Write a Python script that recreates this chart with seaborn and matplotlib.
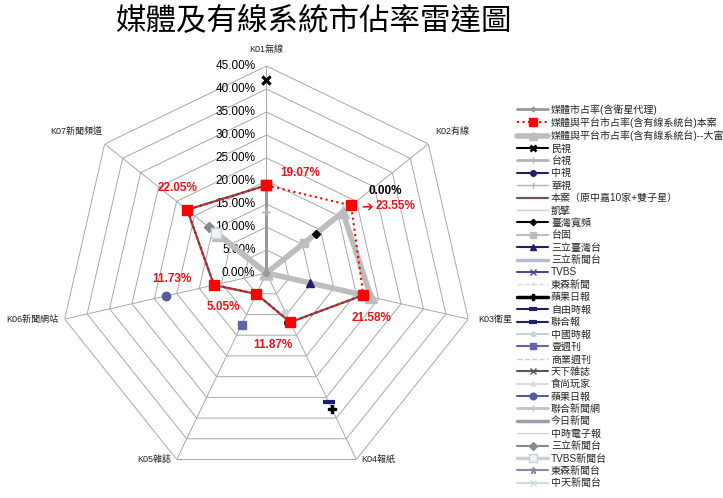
import numpy as np
import matplotlib
matplotlib.use('Agg')
import matplotlib.pyplot as plt
import seaborn as sns

sns.set_theme(style='white')
plt.rcParams['font.family'] = ['Liberation Sans', 'Noto Sans CJK TC', 'DejaVu Sans']

N = np.nan
title = '媒體及有線系統市佔率雷達圖'
categories = ['K01無線', 'K02有線', 'K03衛星', 'K04報紙', 'K05雜誌', 'K06新聞網站', 'K07新聞頻道']
tick_values = [0, 5, 10, 15, 20, 25, 30, 35, 40, 45]
tick_labels = ['0.00%', '5.00%', '10.00%', '15.00%', '20.00%', '25.00%', '30.00%', '35.00%', '40.00%', '45.00%']

# series values (percent)
media_sat = [19.07, 0, 0, 0, 0, 0, 0]
platform_case = [19.07, 23.55, 21.58, 11.87, 5.05, 11.73, 22.05]
platform_dafu = [0, 21.2, 23.3, 0, 0, 0, 13.4]
ftv = [42.0, N, N, N, N, N, N]
ttv = [13.3, N, N, N, N, N, N]
ctv = [N, N, N, N, N, N, N]
cts = [N, N, N, N, N, N, N]
case_orig = [19.07, N, 21.58, 11.87, 5.05, 11.73, 22.05]
kbro = [N, N, N, N, N, N, N]
tbc = [N, 13.7, N, N, N, N, N]
taifu = [N, 10.5, N, N, N, N, N]
set_taiwan = [N, N, 9.6, N, N, N, N]
set_news = [N, N, N, N, N, N, N]
tvbs = [N, N, N, N, N, N, N]
ebc_news = [N, N, N, N, N, N, N]
apple_daily = [N, N, N, 32.7, N, N, N]
liberty = [N, N, N, 31.1, N, N, N]
udn = [N, N, N, 12.0, N, N, N]
chinatimes = [N, N, N, 9.4, N, N, N]
next_mag = [N, N, N, N, 12.5, N, N]
bw = [N, N, N, N, N, N, N]
cw = [N, N, N, N, N, N, N]
gourmet = [N, N, N, N, N, N, N]
apple_web = [N, N, N, N, N, 22.4, N]
udn_web = [N, N, N, N, N, N, N]
nownews = [N, N, N, N, N, N, N]
ct_enews = [N, N, N, N, N, N, N]
set_news_ch = [N, N, N, N, N, N, 15.9]
tvbs_news_ch = [N, N, N, N, N, N, 14.1]
ebc_news_ch = [N, N, N, N, N, N, N]
cti_news_ch = [N, N, N, N, N, N, N]

series = [
    ('媒體市占率(含衛星代理)', media_sat, dict(color='#999999', lw=2, marker='D', ms=3, zorder=4)),
    ('媒體與平台市占率(含有線系統台)本案', platform_case, dict(color='#ff0000', lw=1.5, ls=':', marker='s', ms=7, zorder=8)),
    ('媒體與平台市占率(含有線系統台)--大富', platform_dafu, dict(color='#bdbdbd', lw=4, marker='^', ms=8, zorder=3)),
    ('民視', ftv, dict(color='black', lw=1.5, marker='x', ms=6, mew=2, zorder=6)),
    ('台視', ttv, dict(color='#b3b3b3', lw=2, marker='+', ms=6, zorder=5)),
    ('中視', ctv, dict(color='#1f1f6b', lw=1.5, marker='o', ms=5, zorder=5)),
    ('華視', cts, dict(color='#b3b3b3', lw=1, marker='|', ms=5, zorder=5)),
    ('本案（原中嘉10家+雙子星）', case_orig, dict(color='#6a5560', lw=1.6, zorder=7)),
    ('凱擘', kbro, dict(color='#cccccc', lw=1, zorder=5)),
    ('臺灣寬頻', tbc, dict(color='black', lw=1.5, marker='D', ms=4, zorder=6)),
    ('台固', taifu, dict(color='#bdbdbd', lw=1.5, marker='s', ms=6, zorder=6)),
    ('三立臺灣台', set_taiwan, dict(color='#1f1f6b', lw=1.5, marker='^', ms=6, zorder=6)),
    ('三立新聞台', set_news, dict(color='#b4bccc', lw=2.5, zorder=5)),
    ('TVBS', tvbs, dict(color='#4a4a9a', lw=1.5, marker='x', ms=5, zorder=5)),
    ('東森新聞', ebc_news, dict(color='#dddddd', lw=1, ls='--', marker='.', ms=4, zorder=5)),
    ('蘋果日報', apple_daily, dict(color='black', lw=2.5, marker='P', ms=6, zorder=6)),
    ('自由時報', liberty, dict(color='#1f1f6b', lw=1.5, marker='_', ms=8, mew=3, zorder=6)),
    ('聯合報', udn, dict(color='#1f1f6b', lw=1.5, marker='_', ms=8, mew=3, zorder=7)),
    ('中國時報', chinatimes, dict(color='#c3d3e3', lw=1.5, marker='o', ms=4, zorder=6)),
    ('壹週刊', next_mag, dict(color='#6464aa', lw=1.5, marker='s', ms=6, zorder=6)),
    ('商業週刊', bw, dict(color='#cccccc', lw=1, ls='--', zorder=5)),
    ('天下雜誌', cw, dict(color='#555555', lw=1.5, marker='x', ms=5, zorder=5)),
    ('食尚玩家', gourmet, dict(color='#dddddd', lw=1.5, marker='*', ms=5, zorder=5)),
    ('蘋果日報', apple_web, dict(color='#5a5aa0', lw=1.5, marker='o', ms=6, zorder=6)),
    ('聯合新聞網', udn_web, dict(color='#c3c3c3', lw=2, marker='+', ms=6, zorder=5)),
    ('今日新聞', nownews, dict(color='#9c9cab', lw=2.5, zorder=5)),
    ('中時電子報', ct_enews, dict(color='#cccccc', lw=0.8, zorder=5)),
    ('三立新聞台', set_news_ch, dict(color='#8a8a8a', lw=1.5, marker='D', ms=5, zorder=6)),
    ('TVBS新聞台', tvbs_news_ch, dict(color='#c8d2d8', lw=2.5, marker='s', ms=7, mfc='#eef4f4', zorder=6)),
    ('東森新聞台', ebc_news_ch, dict(color='#8888a8', lw=1.5, marker='*', ms=6, zorder=5)),
    ('中天新聞台', cti_news_ch, dict(color='#d0d8e0', lw=1.5, marker='x', ms=5, zorder=5)),
]

fig = plt.figure(figsize=(7.23, 4.98), dpi=100)
fig.patch.set_facecolor('white')
ax = fig.add_axes([0.0823, 0.0361, 0.5726, 0.8313], projection='polar')
ax.set_theta_offset(np.pi / 2)
ax.set_theta_direction(-1)
ax.grid(False)
ax.spines['polar'].set_visible(False)
ax.set_xticks([])
ax.set_yticks([])

n = len(categories)
theta = np.arange(n) * 2 * np.pi / n
theta_c = np.append(theta, theta[0])

grid_c = '#a8a8a8'
for r in tick_values[1:]:
    ax.plot(theta_c, [r] * (n + 1), color=grid_c, lw=0.7, zorder=1)
for t in theta:
    ax.plot([t, t], [0, tick_values[-1]], color=grid_c, lw=0.7, zorder=1)

handles = []
labels = []
for name, vals, st in series:
    v = np.append(np.array(vals, dtype=float), vals[0])
    h, = ax.plot(theta_c, v, label=name, clip_on=False, **st)
    handles.append(h)
    labels.append(name)

ax.set_ylim(0, tick_values[-1])
ax.set_autoscale_on(False)

# radial tick labels
for v, lab in zip(tick_values, tick_labels):
    ax.annotate(lab, xy=(0, v), xytext=(-11, 0), textcoords='offset pixels',
                ha='right', va='center', fontsize=8.5, color='black', zorder=2)

# category labels
cat_offsets = [((0, 12), 'center', 'bottom'), ((7, 8), 'left', 'bottom'), ((10, 0), 'left', 'center'),
               ((5, 0), 'left', 'center'), ((-5, 0), 'right', 'center'), ((-6, 0), 'right', 'center'),
               ((-2, 8), 'right', 'bottom')]
for t, c, (off, ha, va) in zip(theta, categories, cat_offsets):
    ax.annotate(c, xy=(t, tick_values[-1]), xytext=off, textcoords='offset pixels',
                ha=ha, va=va, fontsize=6.5, color='#222222', annotation_clip=False)

# data labels for the main series
label_offsets = [(34, 12), (44, -1), (8, -23), (-17, -23), (-33, -13), (-42, 6), (-10, 22)]
for t, v, off in zip(theta, platform_case, label_offsets):
    ax.annotate(f'{v:.2f}%', xy=(t, v), xytext=off, textcoords='offset pixels',
                ha='center', va='center', fontsize=8.5, fontweight='bold', color='#e8141c', zorder=10)
ax.annotate('➔', xy=(theta[1], platform_case[1]), xytext=(16, -1), textcoords='offset pixels',
            ha='center', va='center', fontsize=10, fontweight='bold', color='#e8141c',
            family=['DejaVu Sans'], zorder=10)
ax.annotate('0.00%', xy=(theta[1], platform_case[1]), xytext=(34, 14), textcoords='offset pixels',
            ha='center', va='center', fontsize=8.5, fontweight='bold', color='black', zorder=10)

fig.text(313 / 723, 1 - 22 / 498, title, ha='center', va='center', fontsize=22,
         family=['Noto Sans CJK TC'], color='black')

fig.legend(handles, labels, loc='upper left', bbox_to_anchor=(517 / 723, 1 - 104 / 498),
           frameon=False, fontsize=7.2, handlelength=3.1, handletextpad=0.3,
           labelspacing=0.24, borderpad=0, borderaxespad=0, numpoints=1, markerscale=0.8)

fig.savefig('out.png', dpi=100, facecolor='white')
